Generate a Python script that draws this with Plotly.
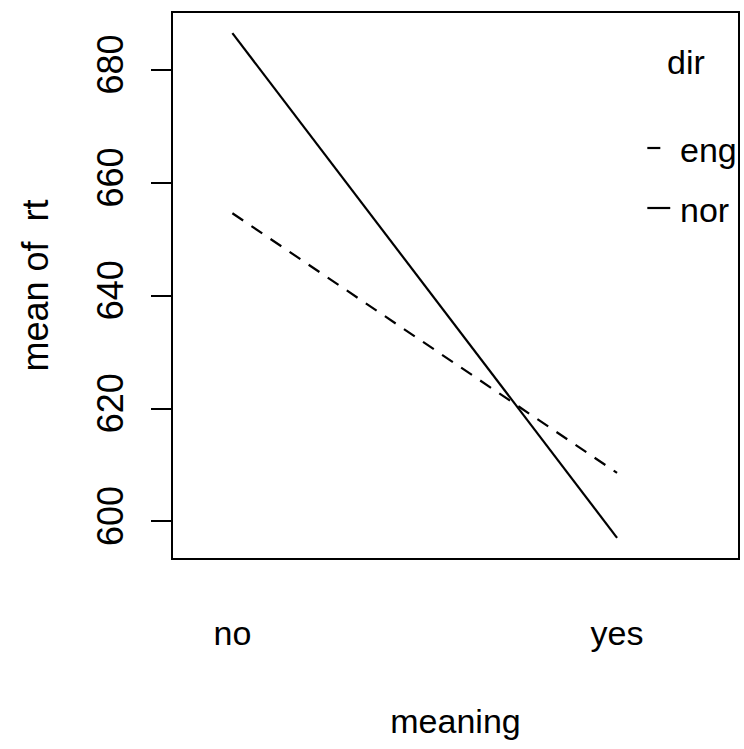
import plotly.graph_objects as go

# Interaction plot: mean response time by meaning, one line per direction
meaning = ["no", "yes"]
rt_eng = [654.6, 608.6]
rt_nor = [686.5, 597.1]
y_ticks = [600, 620, 640, 660, 680]
trace_names = ["eng", "nor"]
trace_dash = ["13px,10px", "solid"]

FONT = "Liberation Sans, Arial, Helvetica, sans-serif"
FS_H = 34   # horizontal text
FS_V = 36   # rotated text on the y axis

W, H = 744, 749
L, R, T, B = 173, 4, 13, 191
PW, PH = W - L - R, H - T - B

# y range: data range padded by 4% each side
all_vals = rt_eng + rt_nor
lo, hi = min(all_vals), max(all_vals)
pad = 0.04 * (hi - lo)
y_range = [lo - pad, hi + pad]

# x range: room on the right for the legend, then 4% padding
nx = len(meaning)
xl = [0 - 0.2 / nx, (nx - 1) + 0.2 + 0.02 * 3]
xpad = 0.04 * (xl[1] - xl[0])
x_range = [xl[0] - xpad, xl[1] + xpad]

fig = go.Figure()
for name, vals, dash in zip(trace_names, [rt_eng, rt_nor], trace_dash):
    fig.add_trace(go.Scatter(
        x=meaning, y=vals, mode="lines", name=name,
        line=dict(color="black", width=2.2, dash=dash),
        showlegend=False,
    ))


def px_x(px):
    return (px - L) / PW


def px_y(py):
    return (H - B - py) / PH


# legend drawn inside the plotting region
shapes = []
annotations = [dict(
    text="dir", xref="paper", yref="paper", x=px_x(688), y=px_y(62),
    xanchor="center", yanchor="middle", showarrow=False,
    font=dict(family=FONT, size=FS_H, color="black"),
)]
for i, (name, dash) in enumerate(zip(trace_names, trace_dash)):
    row_y = [148, 208][i]
    shapes.append(dict(
        type="line", xref="paper", yref="paper",
        x0=px_x(649), x1=px_x(672), y0=px_y(row_y), y1=px_y(row_y),
        line=dict(color="black", width=2.2, dash=dash),
    ))
    annotations.append(dict(
        text=name, xref="paper", yref="paper", x=px_x(680), y=px_y(row_y + 2),
        xanchor="left", yanchor="middle", showarrow=False,
        font=dict(family=FONT, size=FS_H, color="black"),
    ))

fig.update_layout(
    width=W, height=H,
    margin=dict(l=L, r=R, t=T, b=B, pad=0),
    paper_bgcolor="white", plot_bgcolor="white",
    font=dict(family=FONT, size=FS_H, color="black"),
    shapes=shapes, annotations=annotations,
    xaxis=dict(
        type="category", range=x_range,
        showline=True, mirror=True, linecolor="black", linewidth=2,
        showgrid=False, zeroline=False, ticks="",
        ticklabelstandoff=44,
        tickfont=dict(family=FONT, size=FS_H, color="black"),
        title=dict(text="meaning", standoff=58,
                   font=dict(family=FONT, size=FS_H, color="black")),
    ),
    yaxis=dict(
        range=y_range, tickvals=y_ticks,
        ticktext=[str(v) for v in y_ticks],
        showline=True, mirror=True, linecolor="black", linewidth=2,
        showgrid=False, zeroline=False,
        ticks="outside", ticklen=20, tickwidth=2, tickcolor="black",
        tickangle=-90, ticklabelstandoff=14,
        tickfont=dict(family=FONT, size=FS_V, color="black"),
        title=dict(text="mean of\u00a0\u00a0rt", standoff=30,
                   font=dict(family=FONT, size=FS_V, color="black")),
    ),
)

fig.write_html("out.html")
